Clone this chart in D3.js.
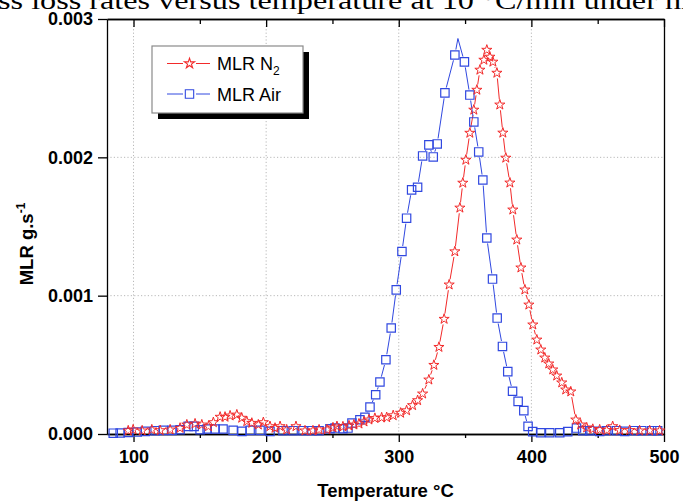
<!DOCTYPE html>
<html>
<head>
<meta charset="utf-8">
<script src="https://cdn.jsdelivr.net/npm/d3@7"></script>
<style>
  body { margin: 0; background: #fff; }
  svg { display: block; }
</style>
</head>
<body>
<div id="chart"></div>
<script>
'use strict';

// values (temperature in °C, MLR in g/s)
const n2Temp = [96.0, 99.7, 106.5, 113.8, 120.1, 127.6, 135.1, 140.2, 146.4, 151.5,
    156.5, 160.2, 165.3, 169.0, 172.8, 177.9, 181.6, 185.4, 189.2, 194.1,
    197.9, 202.9, 206.7, 210.5, 215.5, 222.5, 229.3, 235.3, 239.9, 245.9,
    250.4, 253.4, 257.9, 262.5, 266.2, 270.0, 273.8, 277.5, 282.0, 287.1,
    290.9, 295.8, 301.4, 305.9, 310.4, 314.2, 318.0, 322.7, 326.5, 330.3,
    334.2, 338.0, 342.3, 346.1, 348.3, 350.6, 353.6, 356.6, 358.9, 361.2,
    364.2, 366.4, 368.7, 371.0, 374.0, 376.2, 378.5, 380.7, 383.8, 386.0,
    389.0, 392.1, 395.1, 398.1, 401.1, 404.1, 407.1, 410.1, 413.1, 416.1,
    419.1, 422.9, 425.9, 429.7, 433.5, 437.2, 441.7, 446.3, 451.5, 456.8,
    461.3, 466.6, 474.1, 481.6, 489.2, 496.7];
const n2Mlr = [0.024e-3, 0.031e-3, 0.024e-3, 0.031e-3, 0.026e-3, 0.031e-3, 0.043e-3, 0.067e-3, 0.074e-3, 0.067e-3,
    0.055e-3, 0.084e-3, 0.123e-3, 0.123e-3, 0.132e-3, 0.139e-3, 0.116e-3, 0.091e-3, 0.079e-3, 0.067e-3,
    0.084e-3, 0.055e-3, 0.043e-3, 0.055e-3, 0.031e-3, 0.055e-3, 0.024e-3, 0.024e-3, 0.031e-3, 0.031e-3,
    0.046e-3, 0.055e-3, 0.053e-3, 0.060e-3, 0.067e-3, 0.074e-3, 0.089e-3, 0.103e-3, 0.114e-3, 0.118e-3,
    0.120e-3, 0.134e-3, 0.152e-3, 0.170e-3, 0.207e-3, 0.243e-3, 0.291e-3, 0.392e-3, 0.498e-3, 0.628e-3,
    0.831e-3, 1.079e-3, 1.319e-3, 1.635e-3, 1.815e-3, 1.981e-3, 2.176e-3, 2.343e-3, 2.487e-3, 2.632e-3,
    2.704e-3, 2.776e-3, 2.726e-3, 2.690e-3, 2.610e-3, 2.380e-3, 2.177e-3, 1.996e-3, 1.816e-3, 1.621e-3,
    1.404e-3, 1.202e-3, 1.043e-3, 0.934e-3, 0.790e-3, 0.681e-3, 0.609e-3, 0.551e-3, 0.508e-3, 0.465e-3,
    0.421e-3, 0.371e-3, 0.320e-3, 0.306e-3, 0.103e-3, 0.067e-3, 0.046e-3, 0.035e-3, 0.031e-3, 0.027e-3,
    0.055e-3, 0.027e-3, 0.027e-3, 0.024e-3, 0.024e-3, 0.024e-3];

const airTemp = [84.7, 89.9, 96.0, 102.8, 108.8, 116.3, 122.4, 129.1, 135.1, 141.2,
    145.7, 150.2, 155.5, 161.5, 167.5, 175.1, 181.8, 187.9, 195.4, 202.9,
    212.7, 220.3, 227.8, 234.6, 239.9, 248.1, 251.9, 257.9, 261.7, 264.7,
    270.7, 274.5, 278.3, 282.6, 285.8, 290.3, 294.3, 298.1, 302.4, 305.9,
    309.7, 314.2, 318.0, 322.7, 326.0, 329.0, 334.8, 342.3, 344.6, 349.5,
    353.6, 356.6, 360.3, 363.4, 366.4, 370.7, 374.2, 378.2, 382.2, 385.8,
    390.0, 394.3, 397.5, 401.0, 407.0, 413.9, 421.4, 427.4, 434.0, 438.7,
    444.0, 451.5, 456.8, 464.3, 470.4, 477.9, 483.2, 490.7, 495.2];
const airMlr = [0.006e-3, 0.007e-3, 0.011e-3, 0.014e-3, 0.019e-3, 0.024e-3, 0.026e-3, 0.026e-3, 0.031e-3, 0.055e-3,
    0.055e-3, 0.031e-3, 0.036e-3, 0.036e-3, 0.036e-3, 0.026e-3, 0.019e-3, 0.026e-3, 0.026e-3, 0.019e-3,
    0.024e-3, 0.024e-3, 0.024e-3, 0.024e-3, 0.024e-3, 0.038e-3, 0.043e-3, 0.038e-3, 0.043e-3, 0.079e-3,
    0.103e-3, 0.120e-3, 0.195e-3, 0.284e-3, 0.376e-3, 0.537e-3, 0.766e-3, 1.042e-3, 1.319e-3, 1.560e-3,
    1.765e-3, 1.784e-3, 2.010e-3, 2.090e-3, 2.003e-3, 2.097e-3, 2.466e-3, 2.740e-3, 2.859e-3, 2.690e-3,
    2.450e-3, 2.256e-3, 2.039e-3, 1.836e-3, 1.417e-3, 1.120e-3, 0.838e-3, 0.633e-3, 0.451e-3, 0.309e-3,
    0.236e-3, 0.169e-3, 0.055e-3, 0.017e-3, 0.009e-3, 0.009e-3, 0.009e-3, 0.017e-3, 0.043e-3, 0.024e-3,
    0.024e-3, 0.019e-3, 0.024e-3, 0.024e-3, 0.019e-3, 0.024e-3, 0.024e-3, 0.024e-3, 0.024e-3];
// points where the air curve has no marker (line only)
const airNoMarker = [344.6];

const xTicks = [100, 200, 300, 400, 500];
const xMinorTicks = [150, 250, 350, 450];
const yTicks = [0, 0.001, 0.002, 0.003];
const xGrid = [100, 200, 300, 400];
const yGrid = [0.001, 0.002];

const titleText = "ss loss rates versus temperature at 10 °C/min under ni";
const seriesNames = ["MLR N", "MLR Air"];

const width = 683, height = 504;
const red = "#f22a2a", blue = "#3048e0";
const sansBold = "'Liberation Sans', Arial, sans-serif";

const svg = d3.select("#chart").append("svg")
    .attr("width", width)
    .attr("height", height);

const x = d3.scaleLinear().domain([80, 500]).range([107, 664]);
const y = d3.scaleLinear().domain([0, 0.003]).range([434, 19]);

// caption text cut at the top of the page
svg.append("text")
    .attr("x", -2)
    .attr("y", 9)
    .attr("textLength", 692)
    .attr("lengthAdjust", "spacingAndGlyphs")
    .style("font-family", "'Liberation Serif', 'DejaVu Serif', serif")
    .style("font-size", "25px")
    .text(titleText);

// dotted grid
svg.append("g").selectAll("line").data(xGrid).join("line")
    .attr("x1", d => x(d)).attr("x2", d => x(d))
    .attr("y1", y(0.003)).attr("y2", y(0))
    .attr("stroke", "#b8b8b8").attr("stroke-dasharray", "1.2,2.2");
svg.append("g").selectAll("line").data(yGrid).join("line")
    .attr("x1", x(80)).attr("x2", x(500))
    .attr("y1", d => y(d)).attr("y2", d => y(d))
    .attr("stroke", "#b8b8b8").attr("stroke-dasharray", "1.2,2.2");

// axes
function styleAxis(g) {
    g.selectAll("path, line").attr("stroke", "#000").attr("stroke-width", 1.3);
    g.selectAll("text")
        .style("font-family", sansBold)
        .style("font-weight", "bold")
        .style("font-size", "18px")
        .attr("fill", "#000");
}

svg.append("g")
    .attr("transform", `translate(0,${y(0)})`)
    .call(d3.axisBottom(x).tickValues(xTicks).tickFormat(d3.format("d")).tickSize(8).tickSizeOuter(0).tickPadding(8))
    .call(styleAxis);
svg.append("g")
    .attr("transform", `translate(0,${y(0)})`)
    .call(d3.axisBottom(x).tickValues(xMinorTicks).tickFormat("").tickSize(4).tickSizeOuter(0))
    .call(styleAxis);

svg.append("g")
    .attr("transform", `translate(0,${y(0.003)})`)
    .call(d3.axisTop(x).tickValues(xTicks).tickFormat("").tickSize(-8).tickSizeOuter(0))
    .call(styleAxis);
svg.append("g")
    .attr("transform", `translate(0,${y(0.003)})`)
    .call(d3.axisTop(x).tickValues(xMinorTicks).tickFormat("").tickSize(-5).tickSizeOuter(0))
    .call(styleAxis);

svg.append("g")
    .attr("transform", `translate(${x(80)},0)`)
    .call(d3.axisLeft(y).tickValues(yTicks).tickFormat(d3.format(".3f")).tickSize(9).tickSizeOuter(0).tickPadding(5))
    .call(styleAxis);

svg.append("g")
    .attr("transform", `translate(${x(500)},0)`)
    .call(d3.axisRight(y).tickValues([]).tickSizeOuter(0))
    .call(styleAxis);

// axis titles
svg.append("text")
    .attr("x", (x(80) + x(500)) / 2)
    .attr("y", 497)
    .attr("text-anchor", "middle")
    .style("font-family", sansBold)
    .style("font-weight", "bold")
    .style("font-size", "18.5px")
    .text("Temperature °C");

const yTitle = svg.append("text")
    .attr("transform", "translate(33,244) rotate(-90)")
    .attr("text-anchor", "middle")
    .style("font-family", sansBold)
    .style("font-weight", "bold")
    .style("font-size", "18.5px");
yTitle.append("tspan").text("MLR g.s");
yTitle.append("tspan").attr("dy", -8).style("font-size", "12px").text("-1");

// lines drawn with a small gap round each marker
function gapPath(pts, gap) {
    let d = "";
    for (let i = 0; i < pts.length - 1; i++) {
        const a = pts[i], b = pts[i + 1];
        const dx = b[0] - a[0], dy = b[1] - a[1];
        const len = Math.hypot(dx, dy);
        const ga = a[2] ? gap : 0, gb = b[2] ? gap : 0;
        if (len <= ga + gb + 0.5) continue;
        d += `M${a[0] + dx * ga / len},${a[1] + dy * ga / len}L${b[0] - dx * gb / len},${b[1] - dy * gb / len}`;
    }
    return d;
}

const n2Pts = n2Temp.map((t, i) => [x(t), y(n2Mlr[i]), true]);
const airPts = airTemp.map((t, i) => [x(t), y(airMlr[i]), !airNoMarker.includes(t)]);

svg.append("path")
    .attr("d", gapPath(n2Pts, 5.5))
    .attr("fill", "none").attr("stroke", red).attr("stroke-width", 1);
svg.append("path")
    .attr("d", gapPath(airPts, 5.5))
    .attr("fill", "none").attr("stroke", blue).attr("stroke-width", 1);

const star = d3.symbol().type(d3.symbolStar).size(32);
const square = d3.symbol().type(d3.symbolSquare).size(70);

svg.append("g").selectAll("path").data(airPts.filter(p => p[2])).join("path")
    .attr("d", square)
    .attr("transform", p => `translate(${p[0]},${p[1]})`)
    .attr("fill", "none").attr("stroke", blue).attr("stroke-width", 1.2);

svg.append("g").selectAll("path").data(n2Pts).join("path")
    .attr("d", star)
    .attr("transform", p => `translate(${p[0]},${p[1]})`)
    .attr("fill", "none").attr("stroke", red).attr("stroke-width", 1);

// legend
const lg = svg.append("g");
lg.append("rect").attr("x", 158).attr("y", 52).attr("width", 151).attr("height", 67).attr("fill", "#000");
lg.append("rect").attr("x", 152).attr("y", 46).attr("width", 151).attr("height", 67)
    .attr("fill", "#fff").attr("stroke", "#8a8a8a").attr("stroke-width", 1.2);

const rows = [
    { name: seriesNames[0], sub: "2", color: red, sym: star, cy: 63.5 },
    { name: seriesNames[1], sub: null, color: blue, sym: square, cy: 94 }
];
rows.forEach(r => {
    lg.append("path").attr("d", `M167,${r.cy}H183M196,${r.cy}H210`)
        .attr("stroke", r.color).attr("stroke-width", 1);
    lg.append("path").attr("d", r.sym).attr("transform", `translate(189.5,${r.cy})`)
        .attr("fill", "none").attr("stroke", r.color).attr("stroke-width", 1.1);
    const t = lg.append("text")
        .attr("x", 217).attr("y", r.cy + 6.5)
        .style("font-family", "'Liberation Sans', Arial, sans-serif")
        .style("font-size", "18px")
        .text(r.name);
    if (r.sub) t.append("tspan").attr("dy", 5).style("font-size", "12px").text(r.sub);
});
</script>
</body>
</html>
